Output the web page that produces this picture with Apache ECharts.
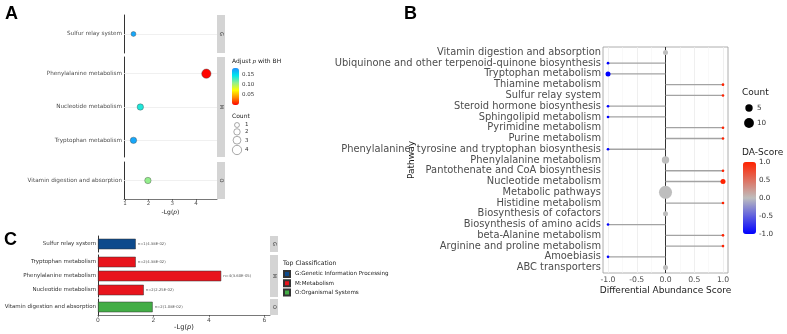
<!DOCTYPE html>
<html>
<head>
<meta charset="utf-8">
<script src="https://cdn.jsdelivr.net/npm/echarts@6.0.0/dist/echarts.min.js"></script>
<style>
html, body { margin: 0; padding: 0; background: #fff; }
#main { width: 787px; height: 334px; }
</style>
</head>
<body>
<div id="main"></div>
<script>
// ---- panel A : enrichment dots (-Lg(p), adjusted p, count)
var pathA  = ['Sulfur relay system', 'Phenylalanine metabolism', 'Nucleotide metabolism', 'Tryptophan metabolism', 'Vitamin digestion and absorption'];
var classA = ['G', 'M', 'M', 'M', 'O'];
var lgpA   = [1.36, 4.44, 1.65, 1.36, 1.97];
var padjA  = [0.175, 0.001, 0.14, 0.175, 0.11];
var countA = [1, 4, 2, 2, 2];

// ---- panel C : same pathways as bars
var pathC   = ['Sulfur relay system', 'Tryptophan metabolism', 'Phenylalanine metabolism', 'Nucleotide metabolism', 'Vitamin digestion and absorption'];
var classC  = ['G', 'M', 'M', 'M', 'O'];
var lgpC    = [1.36, 1.36, 4.44, 1.65, 1.97];
var countC  = [1, 2, 4, 2, 2];
var pLabelC = ['4.38E-02', '4.38E-02', '3.60E-05', '2.25E-02', '1.08E-02'];

var facets      = ['G', 'M', 'O'];
var classNames  = ['G:Genetic Information Processing', 'M:Metabolism', 'O:Organismal Systems'];
var classColors = ['#0d4a8c', '#e8141c', '#43ad46'];

// ---- panel B : differential abundance score
var pathB = ['Vitamin digestion and absorption', 'Ubiquinone and other terpenoid-quinone biosynthesis', 'Tryptophan metabolism',
  'Thiamine metabolism', 'Sulfur relay system', 'Steroid hormone biosynthesis', 'Sphingolipid metabolism', 'Pyrimidine metabolism',
  'Purine metabolism', 'Phenylalanine, tyrosine and tryptophan biosynthesis', 'Phenylalanine metabolism', 'Pantothenate and CoA biosynthesis',
  'Nucleotide metabolism', 'Metabolic pathways', 'Histidine metabolism', 'Biosynthesis of cofactors', 'Biosynthesis of amino acids',
  'beta-Alanine metabolism', 'Arginine and proline metabolism', 'Amoebiasis', 'ABC transporters'];
var scoreB = [0, -1, -1, 1, 1, -1, -1, 1, 1, -1, 0, 1, 1, 0, 1, 0, -1, 1, 1, -1, 0];
var countB = [2, 1, 2, 1, 1, 1, 1, 1, 1, 1, 5, 1, 2, 20, 1, 2, 1, 1, 1, 1, 2];

// tick / legend labels
var xTicksA    = [1, 2, 3, 4];
var xTicksC    = [0, 2, 4, 6];
var padjTicks  = [0.15, 0.10, 0.05];
var countLegA  = [1, 2, 3, 4];
var countLegB  = [5, 10];
var daTicks    = [1.0, 0.5, 0.0, -0.5, -1.0];

var PADJ_MAX = 0.185;

function sizeA(c) { return 3.5 + 1.45 * c; }
function sizeB(c) { return 2.6 + 2.4 * Math.sqrt(c - 1); }

var chart = echarts.init(document.getElementById('main'));

var boxA = [{ top: 15, h: 38 }, { top: 57, h: 100 }, { top: 162, h: 37 }];
var boxC = [{ top: 236, h: 16 }, { top: 255, h: 42 }, { top: 299, h: 16 }];

var grid = [], xAxis = [], yAxis = [], series = [], graphic = [];

function strip(x, y, w, h, letter, fs) {
    graphic.push({ type: 'rect', silent: true, shape: { x: x, y: y, width: w, height: h }, style: { fill: '#d4d4d4' } });
    graphic.push({ type: 'text', silent: true, x: x + w / 2, y: y + h / 2, rotation: -Math.PI / 2,
        style: { text: letter, fontSize: fs, fill: '#333', align: 'center', verticalAlign: 'middle', fontFamily: 'DejaVu Sans' } });
}

// panel A grids (one per facet)
facets.forEach(function (f, k) {
    var idx = [];
    classA.forEach(function (c, i) { if (c === f) idx.push(i); });
    var cats = idx.map(function (i) { return pathA[i]; });
    var last = k === facets.length - 1;
    var gi = grid.length;
    grid.push({ left: 124, top: boxA[k].top, width: 93, height: boxA[k].h });
    xAxis.push({
        gridIndex: gi, type: 'value', min: 0.96, max: 4.89,
        splitLine: { show: false },
        axisLine: { show: last, lineStyle: { color: '#555', width: 0.8 } },
        axisTick: { show: last, length: 2, customValues: xTicksA, lineStyle: { color: '#333', width: 0.6 } },
        axisLabel: { show: last, customValues: xTicksA, fontSize: 5.5, color: '#4d4d4d', margin: 2 },
        name: last ? '-Lg({i|p})' : '', nameLocation: 'middle', nameGap: 10, nameMoveOverlap: false,
        nameTextStyle: { fontSize: 6, color: '#1a1a1a', rich: { i: { fontStyle: 'italic', fontSize: 6 } } }
    });
    yAxis.push({
        gridIndex: gi, type: 'category', inverse: true, data: cats,
        axisLine: { lineStyle: { color: '#333', width: 1 } },
        axisTick: { alignWithLabel: true, length: 2, lineStyle: { color: '#333', width: 0.6 } },
        axisLabel: { interval: 0, fontSize: 5.7, color: '#4d4d4d', margin: 2 },
        splitLine: { show: false }
    });
    series.push({
        type: 'scatter', xAxisIndex: gi, yAxisIndex: gi, z: 4,
        data: idx.map(function (i) { return [lgpA[i], pathA[i], padjA[i], countA[i]]; }),
        symbolSize: function (v) { return sizeA(v[3]); },
        itemStyle: { borderColor: '#444', borderWidth: 0.4, opacity: 1 },
        markLine: {
            z: 1, silent: true, symbol: 'none', label: { show: false }, animation: false,
            lineStyle: { color: '#ececec', width: 0.8, type: 'solid' },
            data: cats.map(function (c) { return { yAxis: c }; })
        }
    });
    strip(217, boxA[k].top, 8, boxA[k].h, f, 5);
});

// panel B grid
var gB = grid.length;
grid.push({ left: 608, top: 47, width: 115, height: 226 });
xAxis.push({
    gridIndex: gB, type: 'value', min: -1, max: 1, interval: 0.5,
    axisLine: { show: false },
    axisTick: { length: 3, lineStyle: { color: '#333', width: 0.7 } },
    axisLabel: { fontSize: 7.7, color: '#4d4d4d', margin: 3, formatter: function (v) { return v.toFixed(1); } },
    splitLine: { lineStyle: { color: '#ebebeb', width: 0.8 } },
    minorTick: { show: false, splitNumber: 2 },
    minorSplitLine: { show: true, lineStyle: { color: '#f3f3f3', width: 0.5 } },
    name: 'Differential Abundance Score', nameLocation: 'middle', nameGap: 13, nameMoveOverlap: false,
    nameTextStyle: { fontSize: 9, color: '#1a1a1a' }
});
yAxis.push({
    gridIndex: gB, type: 'category', inverse: true, data: pathB, offset: 5,
    axisLine: { show: false },
    axisTick: { alignWithLabel: true, interval: 0, length: 3, lineStyle: { color: '#333', width: 0.7 } },
    axisLabel: { interval: 0, hideOverlap: false, fontSize: 9.9, color: '#4d4d4d', margin: 2 },
    name: 'Pathway', nameLocation: 'middle', nameGap: 187, nameMoveOverlap: false,
    nameTextStyle: { fontSize: 9, color: '#1a1a1a' }
});
series.push({
    type: 'bar', xAxisIndex: gB, yAxisIndex: gB, data: scoreB, barWidth: 1.3, z: 2,
    itemStyle: { color: '#a3a3a3' },
    markLine: {
        z: 1, silent: true, symbol: 'none', label: { show: false }, animation: false,
        lineStyle: { color: '#333', width: 1, type: 'solid' },
        data: [{ xAxis: 0 }]
    }
});
var sB = series.length;
series.push({
    type: 'scatter', xAxisIndex: gB, yAxisIndex: gB, z: 4, clip: false,
    data: pathB.map(function (p, i) { return [scoreB[i], p, countB[i]]; }),
    symbolSize: function (v) { return sizeB(v[2]); },
    itemStyle: { opacity: 1 }
});
graphic.push({ type: 'rect', silent: true, z: 0, shape: { x: 603, y: 47, width: 125, height: 226 },
    style: { fill: 'none', stroke: '#9a9a9a', lineWidth: 0.8 } });

// panel C grids
facets.forEach(function (f, k) {
    var idx = [];
    classC.forEach(function (c, i) { if (c === f) idx.push(i); });
    var cats = idx.map(function (i) { return pathC[i]; });
    var last = k === facets.length - 1;
    var gi = grid.length;
    grid.push({ left: 98, top: boxC[k].top, width: 172, height: boxC[k].h });
    xAxis.push({
        gridIndex: gi, type: 'value', min: 0, max: 6.2,
        splitLine: { show: false },
        axisLine: { show: last, lineStyle: { color: '#555', width: 0.8 } },
        axisTick: { show: last, length: 2, customValues: xTicksC, lineStyle: { color: '#333', width: 0.6 } },
        axisLabel: { show: last, customValues: xTicksC, fontSize: 6, color: '#4d4d4d', margin: 2 },
        name: last ? '-Lg({i|p})' : '', nameLocation: 'middle', nameGap: 9, nameMoveOverlap: false,
        nameTextStyle: { fontSize: 6.7, color: '#1a1a1a', rich: { i: { fontStyle: 'italic', fontSize: 6.7 } } }
    });
    yAxis.push({
        gridIndex: gi, type: 'category', inverse: true, data: cats,
        axisLine: { lineStyle: { color: '#333', width: 1 } },
        axisTick: { alignWithLabel: true, length: 2, lineStyle: { color: '#333', width: 0.6 } },
        axisLabel: { interval: 0, fontSize: 5.5, color: '#333', margin: 2 }
    });
    series.push({
        type: 'bar', name: classNames[k], xAxisIndex: gi, yAxisIndex: gi, barWidth: 10.5,
        data: idx.map(function (i) { return lgpC[i]; }),
        itemStyle: { color: classColors[k], borderColor: '#333', borderWidth: 0.5 },
        label: {
            show: true, position: 'right', distance: 2, fontSize: 3.8, color: '#555',
            formatter: function (p) { var i = idx[p.dataIndex]; return 'n=' + countC[i] + '(' + pLabelC[i] + ')'; }
        }
    });
    strip(270, boxC[k].top, 8, boxC[k].h, f, 5);
});

// panel letters
[['A', 5, 5], ['B', 404, 5], ['C', 4, 231]].forEach(function (l) {
    graphic.push({ type: 'text', silent: true, x: l[1], y: l[2],
        style: { text: l[0], fontSize: 18, fontWeight: 'bold', fill: '#000', fontFamily: 'Liberation Sans' } });
});

function txt(x, y, s, fs, extra) {
    var st = { text: s, fontSize: fs, fill: '#1a1a1a', fontFamily: 'DejaVu Sans', verticalAlign: 'middle', align: 'left' };
    for (var k in extra) st[k] = extra[k];
    graphic.push({ type: 'text', silent: true, x: x, y: y, style: st });
}

// legend A : adjusted p colour bar + count circles
txt(232, 61, 'Adjust {i|p} with BH', 6, { rich: { i: { fontStyle: 'italic', fontSize: 6 } } });
padjTicks.forEach(function (v) {
    txt(242, 68 + (1 - v / PADJ_MAX) * 37, v.toFixed(2), 5.5, { fill: '#333' });
});
txt(232, 116, 'Count', 6);
var cyA = 125;
countLegA.forEach(function (c) {
    var r = sizeA(c) / 2;
    graphic.push({ type: 'circle', silent: true, shape: { cx: 237, cy: cyA, r: r }, style: { fill: 'none', stroke: '#555', lineWidth: 0.5 } });
    txt(245, cyA, String(c), 5.5, { fill: '#333' });
    cyA += r + sizeA(c + 1) / 2 + 1.2;
});

// legend B : count dots + DA-score bar labels
txt(742, 93, 'Count', 9);
[108, 123].forEach(function (cy, i) {
    graphic.push({ type: 'circle', silent: true, shape: { cx: 749, cy: cy, r: sizeB(countLegB[i]) / 2 }, style: { fill: '#000' } });
    txt(757, cy, String(countLegB[i]), 7.2, { fill: '#333' });
});
txt(742, 153, 'DA-Score', 9);
daTicks.forEach(function (v) {
    txt(759, 162 + (1 - v) / 2 * 72, v.toFixed(1), 7.2, { fill: '#333' });
});

// legend C title
txt(283, 263, 'Top Classification', 6.2);

var option = {
    animation: false,
    backgroundColor: '#fff',
    textStyle: { fontFamily: 'DejaVu Sans' },
    grid: grid,
    xAxis: xAxis,
    yAxis: yAxis,
    series: series,
    graphic: graphic,
    legend: {
        data: classNames, left: 283, top: 270, orient: 'vertical', icon: 'rect',
        itemWidth: 6, itemHeight: 6, itemGap: 1.2, padding: 0, selectedMode: false,
        textStyle: { fontSize: 5.6, color: '#1a1a1a' }
    },
    visualMap: [
        {
            type: 'continuous', seriesIndex: [0, 1, 2], dimension: 2, min: 0, max: PADJ_MAX,
            left: 232, top: 68, itemWidth: 7, itemHeight: 37, padding: 0, text: null, calculable: false,
            inRange: { color: ['#ff0000', '#ff8c00', '#ffff00', '#90ee90', '#00e5ee', '#1e90ff'] }
        },
        {
            type: 'continuous', seriesIndex: sB, dimension: 0, min: -1, max: 1,
            left: 743, top: 162, itemWidth: 13, itemHeight: 72, padding: 0, text: null, calculable: false,
            inRange: { color: ['#0000ff', '#bebebe', '#ff2200'] }
        }
    ]
};

chart.setOption(option);
</script>
</body>
</html>
